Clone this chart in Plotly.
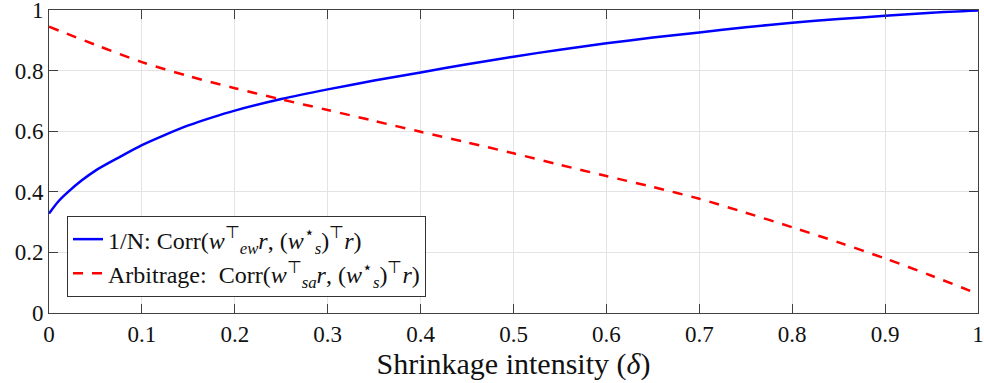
import plotly.graph_objects as go

# Data
delta_ew = [0, 0.01, 0.02, 0.035, 0.05, 0.075, 0.1, 0.125, 0.15, 0.175, 0.2, 0.25, 0.3, 0.35,
            0.4, 0.45, 0.5, 0.55, 0.6, 0.65, 0.7, 0.75, 0.8, 0.85, 0.9, 0.95, 1.0]
corr_ew = [0.328, 0.368, 0.398, 0.437, 0.470, 0.513, 0.554, 0.588, 0.619, 0.645, 0.668,
           0.706, 0.738, 0.767, 0.794, 0.821, 0.846, 0.869, 0.890, 0.909, 0.926, 0.943,
           0.958, 0.970, 0.981, 0.991, 0.998]

delta_sa = [0, 0.05, 0.1, 0.15, 0.2, 0.25, 0.3, 0.35, 0.4, 0.45, 0.5, 0.55, 0.6, 0.65,
            0.7, 0.75, 0.8, 0.85, 0.9, 0.95, 1.0]
corr_sa = [0.945, 0.885, 0.828, 0.782, 0.742, 0.705, 0.670, 0.634, 0.598, 0.563, 0.527,
           0.489, 0.452, 0.416, 0.377, 0.331, 0.283, 0.233, 0.180, 0.123, 0.063]

x_ticks = [0, 0.1, 0.2, 0.3, 0.4, 0.5, 0.6, 0.7, 0.8, 0.9, 1]
x_labels = ["0", "0.1", "0.2", "0.3", "0.4", "0.5", "0.6", "0.7", "0.8", "0.9", "1"]
y_ticks = [0, 0.2, 0.4, 0.6, 0.8, 1]
y_labels = ["0", "0.2", "0.4", "0.6", "0.8", "1"]

name_ew = ("1/N: Corr(<i>w</i><sup>⊤</sup><sub><i>ew</i></sub><i>r</i>, "
           "(<i>w</i><sup>⋆</sup><sub><i>s</i></sub>)<sup>⊤</sup><i>r</i>)")
name_sa = ("Arbitrage:  Corr(<i>w</i><sup>⊤</sup><sub><i>sa</i></sub><i>r</i>, "
           "(<i>w</i><sup>⋆</sup><sub><i>s</i></sub>)<sup>⊤</sup><i>r</i>)")

font_family = "Liberation Serif"

fig = go.Figure()
fig.add_trace(go.Scatter(x=delta_ew, y=corr_ew, mode="lines", name=name_ew,
                         line=dict(color="#0000ff", width=2.5, shape="spline", smoothing=0.8)))
fig.add_trace(go.Scatter(x=delta_sa, y=corr_sa, mode="lines", name=name_sa,
                         line=dict(color="#ff0000", width=2.5, dash="10px,9px",
                                   shape="spline", smoothing=0.8)))

axis_common = dict(
    showline=True, linecolor="#404040", linewidth=1, mirror="ticks",
    ticks="inside", ticklen=9, tickcolor="#404040", tickwidth=1,
    showgrid=True, gridcolor="#e3e3e3", gridwidth=1, zeroline=False,
    automargin=False, ticklabeloverflow="allow",
    tickfont=dict(family=font_family, size=23, color="#111"),
)

fig.update_layout(
    width=984, height=383,
    margin=dict(l=49, r=6, t=10, b=70),
    paper_bgcolor="white", plot_bgcolor="white",
    font=dict(family=font_family, color="#111"),
    showlegend=True,
    legend=dict(x=0.0194, y=0.32, xanchor="left", yanchor="top",
                bgcolor="white", bordercolor="#333333", borderwidth=1,
                font=dict(family=font_family, size=24, color="#111"),
                tracegroupgap=0, itemwidth=30),
    xaxis=dict(range=[0, 1], tickvals=x_ticks, ticktext=x_labels,
               title=dict(text="Shrinkage intensity (<i>δ</i>)", standoff=3,
                          font=dict(family=font_family, size=30, color="#111")),
               **axis_common),
    yaxis=dict(range=[0, 1], tickvals=y_ticks, ticktext=y_labels, **axis_common),
)

fig.write_html("out.html", config={"displayModeBar": False},
               post_script="document.body.style.margin='0';document.body.style.padding='0';")
